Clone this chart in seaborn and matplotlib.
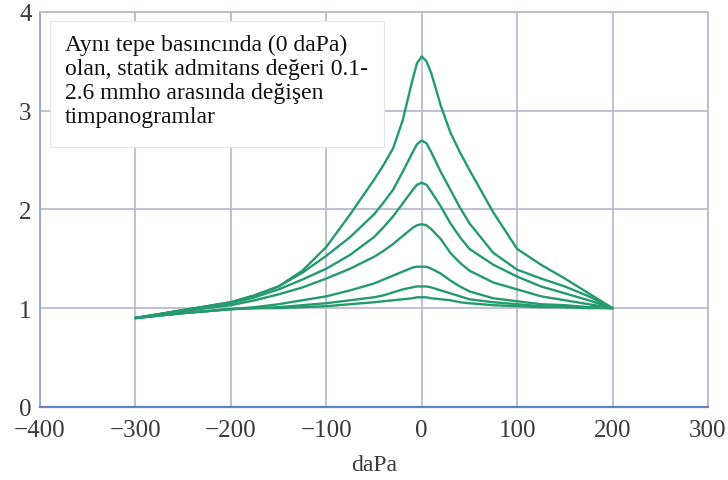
import matplotlib
matplotlib.use("Agg")
import matplotlib.pyplot as plt
import seaborn as sns
import pandas as pd
from matplotlib.ticker import MultipleLocator

pressure = [-300, -250, -200, -175, -150, -125, -100, -75, -50, -40, -30, -20, -10, -5,
            0, 5, 10, 20, 30, 40, 50, 75, 100, 125, 150, 175, 200]

curve_a = [0.90, 0.98, 1.06, 1.13, 1.22, 1.38, 1.62, 1.95, 2.30, 2.45, 2.62, 2.90, 3.30, 3.48,
           3.55, 3.50, 3.38, 3.05, 2.78, 2.58, 2.40, 1.97, 1.60, 1.44, 1.30, 1.15, 1.00]
curve_b = [0.90, 0.98, 1.06, 1.13, 1.22, 1.36, 1.53, 1.72, 1.95, 2.07, 2.20, 2.38, 2.57, 2.66,
           2.70, 2.67, 2.58, 2.38, 2.20, 2.02, 1.86, 1.56, 1.39, 1.30, 1.22, 1.12, 1.00]
curve_c = [0.90, 0.98, 1.05, 1.11, 1.19, 1.29, 1.40, 1.54, 1.72, 1.82, 1.93, 2.06, 2.19, 2.25,
           2.27, 2.25, 2.18, 2.03, 1.86, 1.72, 1.60, 1.44, 1.32, 1.22, 1.15, 1.08, 1.00]
curve_d = [0.90, 0.97, 1.03, 1.08, 1.14, 1.21, 1.30, 1.40, 1.52, 1.58, 1.65, 1.73, 1.81, 1.84,
           1.85, 1.84, 1.80, 1.70, 1.56, 1.46, 1.38, 1.26, 1.19, 1.12, 1.08, 1.04, 1.00]
curve_e = [0.90, 0.95, 0.99, 1.01, 1.04, 1.08, 1.12, 1.18, 1.25, 1.29, 1.33, 1.37, 1.41, 1.42,
           1.42, 1.42, 1.40, 1.35, 1.28, 1.22, 1.17, 1.10, 1.07, 1.04, 1.03, 1.01, 1.00]
curve_f = [0.90, 0.95, 0.99, 1.00, 1.01, 1.03, 1.05, 1.08, 1.11, 1.13, 1.16, 1.19, 1.21, 1.22,
           1.22, 1.22, 1.21, 1.18, 1.15, 1.12, 1.09, 1.06, 1.04, 1.02, 1.01, 1.01, 1.00]
curve_g = [0.90, 0.95, 0.99, 1.00, 1.00, 1.01, 1.02, 1.04, 1.06, 1.07, 1.08, 1.09, 1.10, 1.11,
           1.11, 1.11, 1.10, 1.09, 1.08, 1.06, 1.05, 1.03, 1.02, 1.01, 1.01, 1.00, 1.00]

curves = {"a": curve_a, "b": curve_b, "c": curve_c, "d": curve_d,
          "e": curve_e, "f": curve_f, "g": curve_g}

x_ticks = [-400, -300, -200, -100, 0, 100, 200, 300]
x_tick_labels = ["\u2212400", "\u2212300", "\u2212200", "\u2212100", "0", "100", "200", "300"]
y_ticks = [0, 1, 2, 3, 4]
x_label = "daPa"
note = "Aynı tepe basıncında (0 daPa)\nolan, statik admitans değeri 0.1-\n2.6 mmho arasında değişen\ntimpanogramlar"

rows = []
for name, vals in curves.items():
    for xv, yv in zip(pressure, vals):
        rows.append({"curve": name, "daPa": xv, "value": yv})
df = pd.DataFrame(rows)

sns.set_theme(style="white")
plt.rcParams["font.family"] = ["Liberation Serif", "DejaVu Serif"]

fig = plt.figure(figsize=(7.28, 4.81), dpi=100)
ax = fig.add_axes([0.055, 0.152, 0.9175, 0.821])

line_color = "#249a6e"
sns.lineplot(data=df, x="daPa", y="value", hue="curve",
             palette=[line_color] * 7, legend=False, linewidth=1.7,
             ax=ax, sort=False, estimator=None, zorder=3)

ax.set_xlim(-400, 300)
ax.set_ylim(0, 4)
ax.set_xticks(x_ticks)
ax.set_xticklabels(x_tick_labels)
ax.set_yticks(y_ticks)
ax.xaxis.set_minor_locator(MultipleLocator(50))
ax.yaxis.set_minor_locator(MultipleLocator(0.5))

grid_color = "#b9bccb"
ax.grid(True, which="major", color=grid_color, linewidth=1.3, zorder=1)
ax.set_axisbelow(True)

for side in ["top", "right"]:
    ax.spines[side].set_color(grid_color)
    ax.spines[side].set_linewidth(1.3)
ax.spines["left"].set_color("#8ea8d6")
ax.spines["left"].set_linewidth(1.3)
ax.spines["bottom"].set_color("#5f84c6")
ax.spines["bottom"].set_linewidth(1.6)

ax.tick_params(axis="both", which="major", direction="in", length=7,
               color="#9aa0b0", labelsize=18, labelcolor="#3a3a3a")
ax.tick_params(axis="y", which="major", pad=6)
ax.tick_params(axis="both", which="minor", direction="in", length=5,
               color="#9aa0b0")
ax.tick_params(axis="x", which="major", length=0, pad=9)

ax.set_xlabel(x_label, fontsize=17, color="#3a3a3a", labelpad=9)
ax.set_ylabel("")

box = plt.Rectangle((0.015, 0.657), 0.50, 0.32, transform=ax.transAxes,
                    facecolor="white", edgecolor="#e6e6e6", linewidth=0.8,
                    zorder=2)
ax.add_patch(box)
ax.text(0.037, 0.945, note, transform=ax.transAxes, fontsize=17,
        color="#111111", va="top", ha="left", linespacing=1.2, zorder=4)

fig.savefig("out.png", dpi=100)
